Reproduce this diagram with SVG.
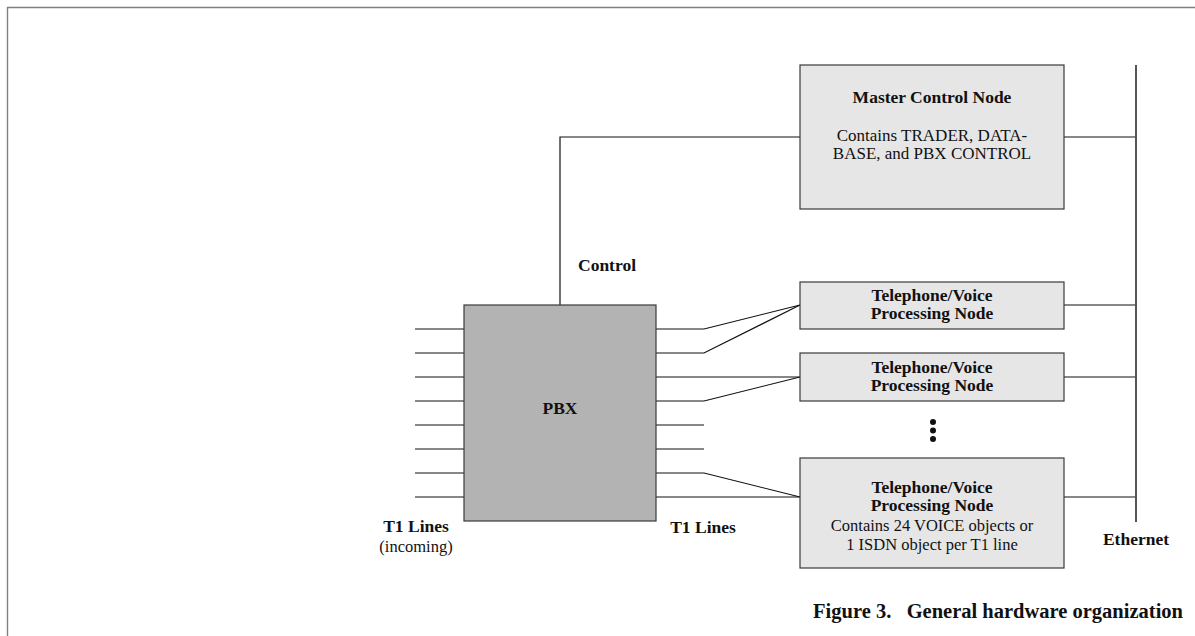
<svg xmlns="http://www.w3.org/2000/svg" width="1195" height="636" viewBox="0 0 1195 636">
<style>
.frame{stroke:#808080;stroke-width:1.4;fill:none}
.box{fill:#e6e6e6;stroke:#3a3a3a;stroke-width:1.2}
.pbx{fill:#b3b3b3;stroke:#3a3a3a;stroke-width:1.2}
.ln{stroke:#111;stroke-width:1.2;fill:none}
.eth{stroke:#555;stroke-width:2;fill:none}
text{font-family:"Liberation Serif","Times New Roman",serif;fill:#111}
.b{font-weight:bold;font-size:17.5px}
.r{font-size:16.5px}
.m{font-size:17px}
.cap{font-weight:bold;font-size:20.5px}
.c{text-anchor:middle}
</style>
<rect width="1195" height="636" fill="#fff"/>
<path class="frame" d="M7.5,636 V7.5 H1195"/>
<g id="connectors">
<path class="ln" d="M800,137 H560 V305"/>
<path class="ln" d="M1064,137 H1136"/>
<path class="ln" d="M1064,305 H1136"/>
<path class="ln" d="M1064,377 H1136"/>
<path class="ln" d="M1064,497 H1136"/>
<path class="eth" d="M1136,65 V522"/>
<g id="incoming">
<path class="ln" d="M415,329 H464 M415,353 H464 M415,377 H464 M415,401 H464 M415,425 H464 M415,449 H464 M415,473 H464 M415,497 H464"/>
</g>
<g id="outgoing">
<path class="ln" d="M656,329 H704 L800,305"/>
<path class="ln" d="M656,353 H704 L800,305"/>
<path class="ln" d="M656,377 H800"/>
<path class="ln" d="M656,401 H704 L800,377"/>
<path class="ln" d="M656,425 H704"/>
<path class="ln" d="M656,449 H704"/>
<path class="ln" d="M656,473 H704 L800,497"/>
<path class="ln" d="M656,497 H800"/>
</g>
</g>
<g id="master">
<rect class="box" x="800" y="65" width="264" height="144"/>
<text class="b c" x="932" y="103">Master Control Node</text>
<text class="m c" x="932" y="141">Contains TRADER, DATA-</text>
<text class="m c" x="932" y="159">BASE, and PBX CONTROL</text>
</g>
<g id="pbx">
<rect class="pbx" x="464" y="305" width="192" height="216"/>
<text class="b c" x="560" y="414">PBX</text>
</g>
<g id="tel1">
<rect class="box" x="800" y="282" width="264" height="47"/>
<text class="b c" x="932" y="301">Telephone/Voice</text>
<text class="b c" x="932" y="319">Processing Node</text>
</g>
<g id="tel2">
<rect class="box" x="800" y="353" width="264" height="48"/>
<text class="b c" x="932" y="373">Telephone/Voice</text>
<text class="b c" x="932" y="391">Processing Node</text>
</g>
<g id="dots">
<circle cx="933" cy="422" r="3" fill="#111"/>
<circle cx="933" cy="430.5" r="3" fill="#111"/>
<circle cx="933" cy="439" r="3" fill="#111"/>
</g>
<g id="tel3">
<rect class="box" x="800" y="458" width="264" height="110"/>
<text class="b c" x="932" y="493">Telephone/Voice</text>
<text class="b c" x="932" y="511">Processing Node</text>
<text class="r c" x="932" y="531">Contains 24 VOICE objects or</text>
<text class="r c" x="932" y="550">1 ISDN object per T1 line</text>
</g>
<g id="labels">
<text class="b" x="578" y="271">Control</text>
<text class="b c" x="416" y="532">T1 Lines</text>
<text class="r c" x="416" y="552">(incoming)</text>
<text class="b c" x="703" y="533">T1 Lines</text>
<text class="b c" x="1136" y="545">Ethernet</text>
<text class="cap" x="1183" y="618" text-anchor="end" xml:space="preserve">Figure 3.   General hardware organization</text>
</g>
</svg>
